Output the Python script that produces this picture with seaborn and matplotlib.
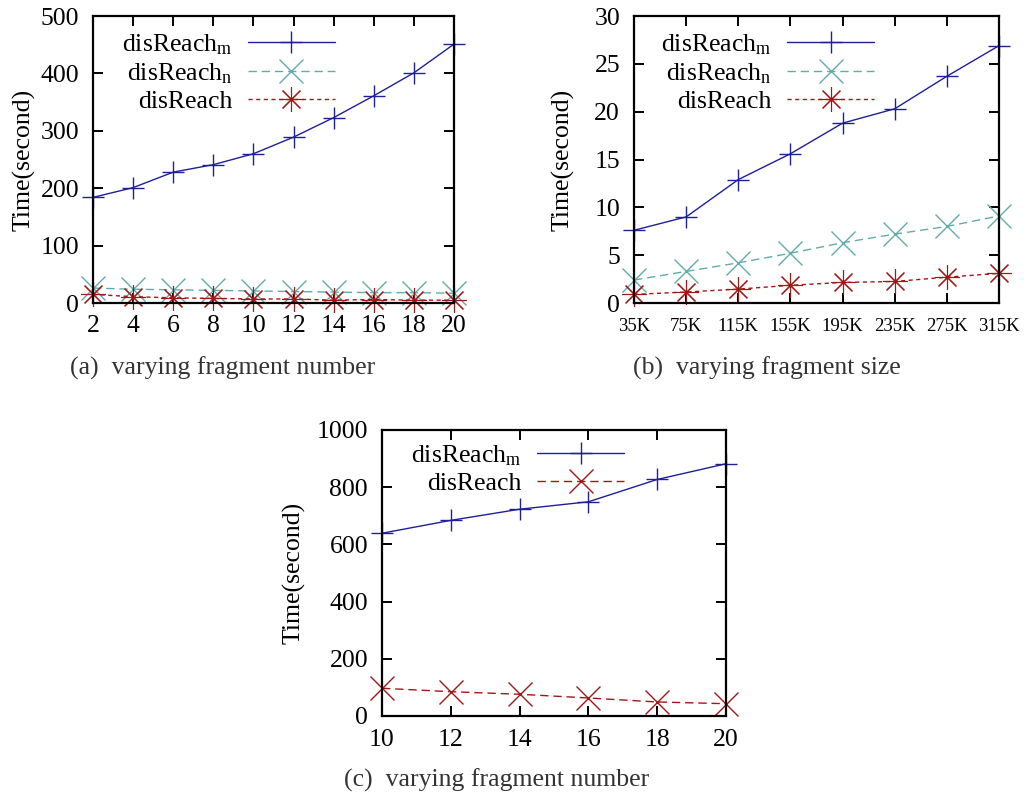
import numpy as np
import pandas as pd
import matplotlib
matplotlib.use("Agg")
import matplotlib.pyplot as plt
import seaborn as sns

# ---- data -------------------------------------------------------------
frag_num_a = [2, 4, 6, 8, 10, 12, 14, 16, 18, 20]
a_m = [184, 201, 228, 241, 260, 289, 323, 361, 401, 451]
a_n = [26, 24, 23, 22, 21, 20, 19, 18, 18, 17]
a_d = [15, 11, 9, 8, 7, 7, 5, 6, 5, 5]

frag_size_b = [35, 75, 115, 155, 195, 235, 275, 315]
size_labels_b = [f"{v}K" for v in frag_size_b]
b_m = [7.6, 9.0, 12.9, 15.6, 18.8, 20.3, 23.7, 26.9]
b_n = [2.4, 3.3, 4.2, 5.2, 6.3, 7.2, 8.0, 9.1]
b_d = [0.9, 1.15, 1.45, 1.85, 2.15, 2.25, 2.7, 3.1]

frag_num_c = [10, 12, 14, 16, 18, 20]
c_m = [639, 684, 723, 749, 827, 882]
c_d = [97, 85, 76, 63, 49, 43]

LBL_M = r"disReach$_{\mathrm{m}}$"
LBL_N = r"disReach$_{\mathrm{n}}$"
LBL_D = "disReach"

BLUE = "#1f1f99"
CYAN = "#62abab"
RED = "#a31616"

# ---- style ------------------------------------------------------------
sns.set_style("ticks")
plt.rcParams.update({
    "font.family": ["Liberation Serif", "DejaVu Serif"],
    "mathtext.fontset": "custom",
    "mathtext.rm": "Liberation Serif",
    "mathtext.it": "Liberation Serif:italic",
    "axes.linewidth": 1.6,
    "axes.edgecolor": "black",
    "xtick.direction": "in",
    "ytick.direction": "in",
    "xtick.top": True,
    "ytick.right": True,
    "xtick.major.size": 7,
    "ytick.major.size": 7,
    "xtick.major.width": 1.4,
    "ytick.major.width": 1.4,
    "xtick.color": "black",
    "ytick.color": "black",
    "text.color": "black",
    "axes.labelcolor": "black",
})

FS = 18.5
W, H = 1027, 796
fig = plt.figure(figsize=(W / 100, H / 100), dpi=100)


def px_axes(left, right, top, bottom):
    return fig.add_axes([left / W, 1 - bottom / H, (right - left) / W, (bottom - top) / H])


def draw(ax, x, y, color, marker, ms, ls, label, mew=1.0):
    df = pd.DataFrame({"x": x, "y": y})
    sns.lineplot(data=df, x="x", y="y", ax=ax, color=color, marker=marker,
                 markersize=ms, markeredgecolor=color, markeredgewidth=mew,
                 markerfacecolor="none", linewidth=1.0, linestyle=ls,
                 label=label, clip_on=False, legend=False)


ASTER = (8, 2, 0)
SOLID = "-"
LONGDASH = (0, (6, 3.5))
SHORTDASH = (0, (3, 2.5))


def finish(ax, xlim, ylim, yticks, xpad, ylab_x, leg_anchor):
    ax.set_xlim(*xlim)
    ax.set_ylim(*ylim)
    ax.set_yticks(yticks)
    ax.tick_params(axis="x", pad=xpad)
    ax.tick_params(axis="y", pad=10, labelsize=FS)
    ax.set_xlabel("")
    ax.set_ylabel("Time(second)", fontsize=FS)
    ax.yaxis.set_label_coords(ylab_x, 0.5)
    leg = ax.legend(loc="upper left", bbox_to_anchor=leg_anchor, frameon=False,
                    markerfirst=False, fontsize=FS, handlelength=3.4,
                    handletextpad=0.6, labelspacing=0.17, borderpad=0,
                    borderaxespad=0, numpoints=1)
    return leg


# (a) varying fragment number
ax_a = px_axes(93, 454, 16, 303)
draw(ax_a, frag_num_a, a_m, BLUE, "+", 16.5, SOLID, LBL_M)
draw(ax_a, frag_num_a, a_n, CYAN, "x", 17.5, LONGDASH, LBL_N)
draw(ax_a, frag_num_a, a_d, RED, ASTER, 18, SHORTDASH, LBL_D, mew=0.8)
ax_a.set_xticks(frag_num_a)
ax_a.tick_params(axis="x", labelsize=FS)
finish(ax_a, (2, 20), (0, 500), np.arange(0, 501, 100), 9, -0.16, (0.08, 0.943))

# (b) varying fragment size
ax_b = px_axes(634, 999, 16, 303)
draw(ax_b, frag_size_b, b_m, BLUE, "+", 16.5, SOLID, LBL_M)
draw(ax_b, frag_size_b, b_n, CYAN, "x", 17.5, LONGDASH, LBL_N)
draw(ax_b, frag_size_b, b_d, RED, ASTER, 18, SHORTDASH, LBL_D, mew=0.8)
ax_b.set_xticks(frag_size_b)
ax_b.set_xticklabels(size_labels_b)
ax_b.tick_params(axis="x", labelsize=13.5)
finish(ax_b, (35, 315), (0, 30), np.arange(0, 31, 5), 11, -0.162, (0.075, 0.943))

# (c) varying fragment number
ax_c = px_axes(382, 726, 430, 716)
draw(ax_c, frag_num_c, c_m, BLUE, "+", 16.5, SOLID, LBL_M)
draw(ax_c, frag_num_c, c_d, RED, "x", 17, LONGDASH, LBL_D)
ax_c.set_xticks(frag_num_c)
ax_c.tick_params(axis="x", labelsize=FS)
finish(ax_c, (10, 20), (0, 1000), np.arange(0, 1001, 200), 9, -0.221, (0.085, 0.953))

# captions
CAP = "#333333"
fig.text(223 / W, 1 - 368 / H, "(a)  varying fragment number", fontsize=FS,
         color=CAP, ha="center", va="center")
fig.text(767 / W, 1 - 368 / H, "(b)  varying fragment size", fontsize=FS,
         color=CAP, ha="center", va="center")
fig.text(497 / W, 1 - 780 / H, "(c)  varying fragment number", fontsize=FS,
         color=CAP, ha="center", va="center")

fig.savefig("out.png", dpi=100)
